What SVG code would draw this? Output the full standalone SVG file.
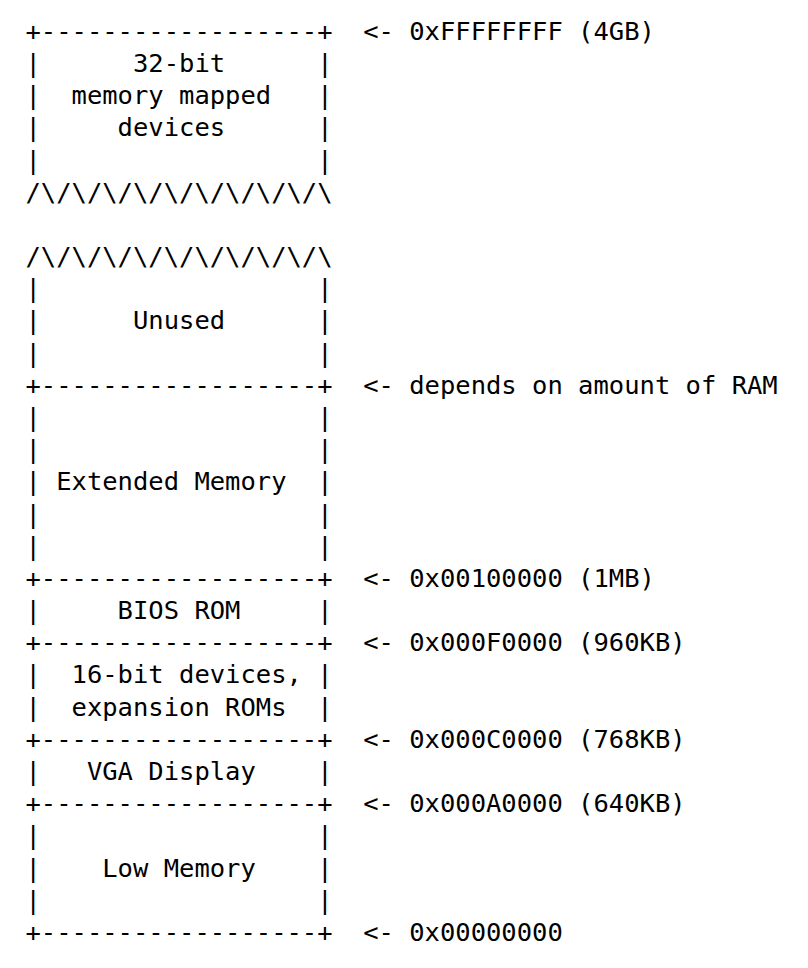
<svg xmlns="http://www.w3.org/2000/svg" width="808" height="968" viewBox="0 0 808 968">
<style>
text{font-family:"DejaVu Sans Mono","Liberation Mono",monospace;font-size:25.5px;fill:#000;white-space:pre}
</style>
<rect width="808" height="968" fill="#fff"/>
<g transform="translate(0,1)">
<g id="region-32bit-devices" xml:space="preserve">
<text x="25.5" y="38.8">+------------------+</text>
<text x="25.5" y="71.0">|      32-bit      |</text>
<text x="25.5" y="103.2">|  memory mapped   |</text>
<text x="25.5" y="135.3">|     devices      |</text>
<text x="25.5" y="167.5">|                  |</text>
<text x="25.5" y="199.7">/\/\/\/\/\/\/\/\/\/\</text>
</g>
<g id="region-unused" xml:space="preserve">
<text x="25.5" y="264.1">/\/\/\/\/\/\/\/\/\/\</text>
<text x="25.5" y="296.2">|                  |</text>
<text x="25.5" y="328.4">|      Unused      |</text>
<text x="25.5" y="360.6">|                  |</text>
<text x="25.5" y="392.8">+------------------+</text>
</g>
<g id="region-extended" xml:space="preserve">
<text x="25.5" y="425.0">|                  |</text>
<text x="25.5" y="457.1">|                  |</text>
<text x="25.5" y="489.3">| Extended Memory  |</text>
<text x="25.5" y="521.5">|                  |</text>
<text x="25.5" y="553.7">|                  |</text>
<text x="25.5" y="585.9">+------------------+</text>
</g>
<g id="region-bios" xml:space="preserve">
<text x="25.5" y="618.0">|     BIOS ROM     |</text>
<text x="25.5" y="650.2">+------------------+</text>
</g>
<g id="region-16bit" xml:space="preserve">
<text x="25.5" y="682.4">|  16-bit devices, |</text>
<text x="25.5" y="714.6">|  expansion ROMs  |</text>
<text x="25.5" y="746.8">+------------------+</text>
</g>
<g id="region-vga" xml:space="preserve">
<text x="25.5" y="778.9">|   VGA Display    |</text>
<text x="25.5" y="811.1">+------------------+</text>
</g>
<g id="region-low" xml:space="preserve">
<text x="25.5" y="843.3">|                  |</text>
<text x="25.5" y="875.5">|    Low Memory    |</text>
<text x="25.5" y="907.7">|                  |</text>
<text x="25.5" y="939.8">+------------------+</text>
</g>
<g id="address-labels" xml:space="preserve">
<text x="363.2" y="38.8">&lt;- 0xFFFFFFFF (4GB)</text>
<text x="363.2" y="392.8">&lt;- depends on amount of RAM</text>
<text x="363.2" y="585.9">&lt;- 0x00100000 (1MB)</text>
<text x="363.2" y="650.2">&lt;- 0x000F0000 (960KB)</text>
<text x="363.2" y="746.8">&lt;- 0x000C0000 (768KB)</text>
<text x="363.2" y="811.1">&lt;- 0x000A0000 (640KB)</text>
<text x="363.2" y="939.8">&lt;- 0x00000000</text>
</g>
</g>
</svg>
